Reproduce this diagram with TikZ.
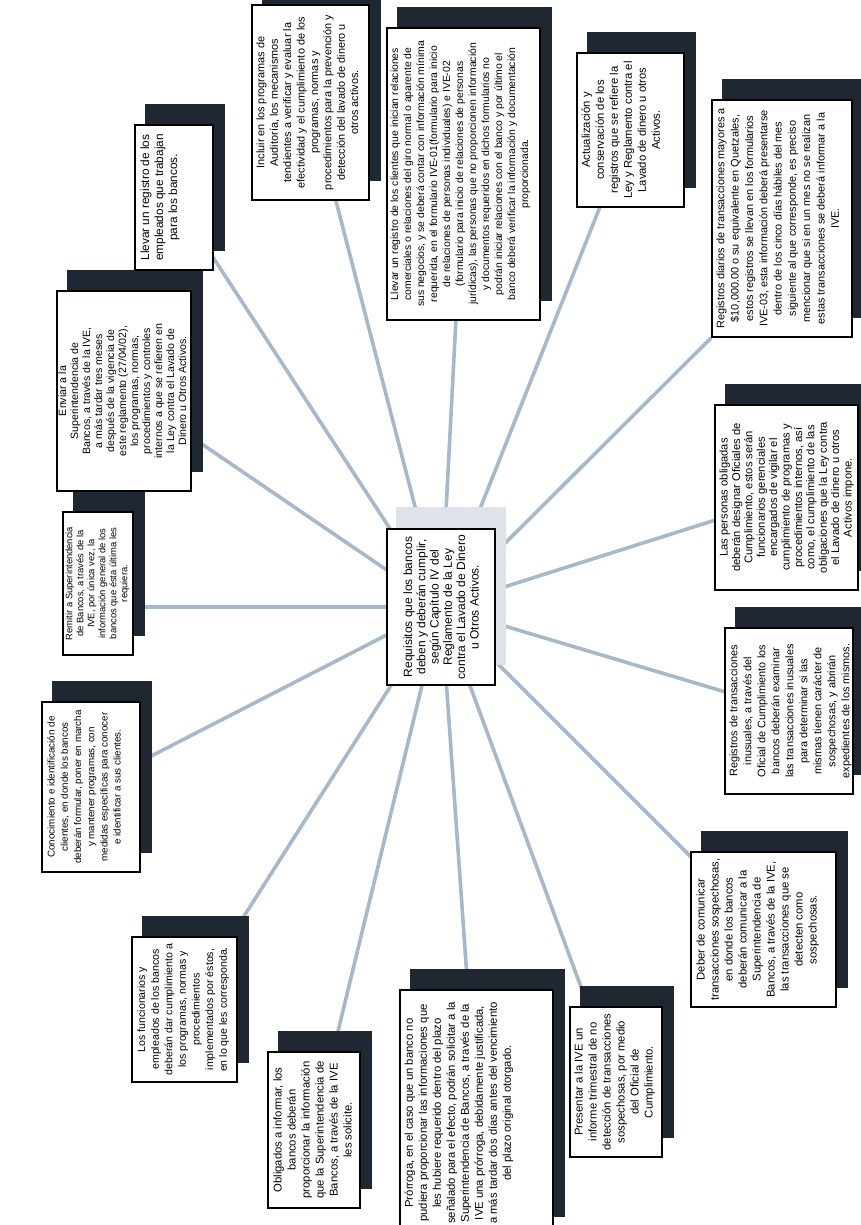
\documentclass[tikz,border=0pt]{standalone}
\usepackage{fontspec}
\setmainfont{Liberation Sans}
\usetikzlibrary{positioning, calc}

\pgfdeclarelayer{spokes}
\pgfdeclarelayer{shadows}
\pgfsetlayers{spokes,shadows,main}

\definecolor{spokeblue}{RGB}{166,184,201}
\definecolor{shadowdark}{RGB}{31,39,50}
\definecolor{shadowpale}{RGB}{222,226,233}

\begin{document}
\begin{tikzpicture}[
  x=1pt, y=-1pt,
  every node/.style={font=\fontsize{11.3}{14}\selectfont},
  %% boxes: the frame and its rotated text are separate nodes
  req/.style={draw, line width=1.4pt, fill=white, inner sep=0pt},
  reqtext/.style={rotate=90, anchor=north, align=center, inner sep=0pt},
  small/.style={font=\fontsize{10.4}{13}\selectfont},
  tight/.style={font=\fontsize{11.2}{12.4}\selectfont},
  spoke/.style={draw=spokeblue, line width=3.6pt},
  shade/.style={fill=shadowdark},
]
\useasboundingbox (0,0) rectangle (861,1225);

%% =========================================================
%% CENTRE — the requirement title
%% =========================================================
\node[req, minimum width=108pt, minimum height=156pt] (b1) at (441,607) {};
\node[reqtext, anchor=center, font=\fontsize{12}{13.3}\selectfont] (t1) at (b1.center)
  {Requisitos que los bancos\\deben y deberán cumplir,\\según Capítulo IV del\\Reglamento de la Ley\\contra el Lavado de Dinero\\u Otros Activos.};

%% =========================================================
%% TOP ROW — left to right
%% =========================================================
\node[req, minimum width=78pt, minimum height=145pt] (b16) at (174,197.5) {};
\node[reqtext, font=\fontsize{11.8}{14}\selectfont] (t16) at ([xshift=6pt]b16.west)
  {Llevar un registro de los\\empleados que trabajan\\para los bancos.};

\node[req, minimum width=117pt, minimum height=195pt] (b2) at (310.5,102.5) {};
\node[reqtext, font=\fontsize{10.9}{13.4}\selectfont] (t2) at ([xshift=5pt]b2.west)
  {Incluir en los programas de\\Auditoría, los mecanismos\\tendientes a verificar y evaluar la\\efectividad y el cumplimiento de los\\programas, normas y\\procedimientos para la prevención y\\detección del lavado de dinero u\\otros activos.};

\node[req, minimum width=153pt, minimum height=292pt] (b3) at (463.5,174) {};
\node[reqtext, small] (t3) at ([xshift=4pt]b3.west)
  {Llevar un registro de los clientes que inician relaciones\\comerciales o relaciones del giro normal o aparente de\\sus negocios, y se deberá contar con información mínima\\requerida, en el formulario IVE-01(formulario para inicio\\de relaciones de personas individuales) e IVE-02\\(formulario para inicio de relaciones de personas\\jurídicas), las personas que no proporcionen información\\y documentos requeridos en dichos formularios no\\podrán iniciar relaciones con el banco y por último el\\banco deberá verificar la información y documentación\\proporcionada.};

\node[req, minimum width=107pt, minimum height=154pt] (b4) at (630.5,130) {};
\node[reqtext] (t4) at ([xshift=5pt]b4.west)
  {Actualización y\\conservación de los\\registros que se refiere la\\Ley y Reglamento contra el\\Lavado de dinero u otros\\Activos.};

%% =========================================================
%% RIGHT COLUMN — top to bottom
%% =========================================================
\node[req, minimum width=140pt, minimum height=237pt] (b5) at (782,218.5) {};
\node[reqtext, font=\fontsize{10.9}{14.3}\selectfont] (t5) at ([xshift=5pt]b5.west)
  {Registros diarios de transacciones mayores a\\\$10,000.00 o su equivalente en Quetzales,\\estos registros se llevan en los formularios\\IVE-03, esta información deberá presentarse\\dentro de los cinco días hábiles del mes\\siguiente al que corresponde, es preciso\\mencionar que si en un mes no se realizan\\estas transacciones se deberá informar a la\\IVE.};

\node[req, minimum width=143pt, minimum height=185pt] (b6) at (786.5,497.5) {};
\node[reqtext, tight] (t6) at ([xshift=5pt]b6.west)
  {Las personas obligadas\\deberán designar Oficiales de\\Cumplimiento, estos serán\\funcionarios gerenciales\\encargados de vigilar el\\cumplimiento de programas y\\procedimientos internos, así\\como, el cumplimiento de las\\obligaciones que la Ley contra\\el Lavado de dinero u otros\\Activos impone.};

\node[req, minimum width=128pt, minimum height=166pt] (b7) at (789,711) {};
\node[reqtext, font=\fontsize{10.9}{14}\selectfont] (t7) at ([xshift=5pt]b7.west)
  {Registros de transacciones\\inusuales, a través del\\Oficial de Cumplimiento los\\bancos deberán examinar\\las transacciones inusuales\\para determinar si las\\mismas tienen carácter de\\sospechosas, y abrirán\\expedientes de los mismos.};

\node[req, minimum width=145pt, minimum height=155pt] (b8) at (763.5,929.5) {};
\node[reqtext] (t8) at ([xshift=6pt]b8.west)
  {Deber de comunicar\\transacciones sospechosas,\\en donde los bancos\\deberán comunicar a la\\Superintendencia de\\Bancos, a través de la IVE,\\las transacciones que se\\detecten como\\sospechosas.};

%% =========================================================
%% BOTTOM ROW — right to left
%% =========================================================
\node[req, minimum width=92pt, minimum height=150pt] (b9) at (616,1082) {};
\node[reqtext] (t9) at ([xshift=5pt]b9.west)
  {Presentar a la IVE un\\informe trimestral de no\\detección de transacciones\\sospechosas, por medio\\del Oficial de\\Cumplimiento.};

\node[req, minimum width=153pt, minimum height=246pt] (b10) at (476.5,1113) {};
\node[reqtext] (t10) at ([xshift=5pt]b10.west)
  {Prórroga, en el caso que un banco no\\pudiera proporcionar las informaciones que\\les hubiere requerido dentro del plazo\\señalado para el efecto, podrán solicitar a la\\Superintendencia de Bancos, a través de la\\IVE una prórroga, debidamente justificada,\\a más tardar dos días antes del vencimiento\\del plazo original otorgado.};

\node[req, minimum width=92pt, minimum height=156pt] (b11) at (314,1130) {};
\node[reqtext] (t11) at ([xshift=6pt]b11.west)
  {Obligados a informar, los\\bancos deberán\\proporcionar la información\\que la Superintendencia de\\Bancos, a través de la IVE\\les solicite.};

\node[req, minimum width=105pt, minimum height=145pt] (b12) at (184.5,1009.5) {};
\node[reqtext, font=\fontsize{10.6}{13.6}\selectfont] (t12) at ([xshift=6pt]b12.west)
  {Los funcionarios y\\empleados de los bancos\\deberán dar cumplimiento a\\los programas, normas y\\procedimientos\\implementados por éstos,\\en lo que les corresponda.};

%% =========================================================
%% LEFT COLUMN — bottom to top
%% =========================================================
\node[req, minimum width=98pt, minimum height=170pt] (b13) at (91,787) {};
\node[reqtext, font=\fontsize{9.8}{13.2}\selectfont] (t13) at ([xshift=6pt]b13.west)
  {Conocimiento e identificación de\\clientes, en donde los bancos\\deberán formular, poner en marcha\\y mantener programas, con\\medidas específicas para conocer\\e identificar a sus clientes.};

\node[req, minimum width=70pt, minimum height=143pt] (b14) at (98,583.5) {};
\node[reqtext, font=\fontsize{9.4}{11}\selectfont] (t14) at ([xshift=3pt]b14.west)
  {Remitir a Superintendencia\\de Bancos, a través de la\\IVE, por única vez, la\\información general de los\\bancos que ésta última les\\requiera.};

\node[req, minimum width=134pt, minimum height=200pt] (b15) at (124,391) {};
\node[reqtext, font=\fontsize{10.6}{12}\selectfont] (t15) at ([xshift=2pt]b15.west)
  {Enviar a la\\Superintendencia de\\Bancos, a través de la IVE,\\a más tardar tres meses\\después de la vigencia de\\este reglamento (27/04/02),\\los programas, normas,\\procedimientos y controles\\internos a que se refieren en\\la Ley contra el Lavado de\\Dinero u Otros Activos.};

%% =========================================================
%% SHADOWS — same size as each box, up and to the right
%% =========================================================
\begin{pgfonlayer}{shadows}
  \fill[shadowpale] ([shift={(10,-21)}]b1.south west) rectangle ([shift={(10,-21)}]b1.north east);
  \fill[shade] ([shift={(11,-20)}]b2.south west) rectangle ([shift={(11,-20)}]b2.north east);
  \fill[shade] ([shift={(11,-20)}]b3.south west) rectangle ([shift={(11,-20)}]b3.north east);
  \fill[shade] ([shift={(11,-20)}]b4.south west) rectangle ([shift={(11,-20)}]b4.north east);
  \fill[shade] ([shift={(11,-20)}]b5.south west) rectangle ([shift={(11,-20)}]b5.north east);
  \fill[shade] ([shift={(11,-20)}]b6.south west) rectangle ([shift={(11,-20)}]b6.north east);
  \fill[shade] ([shift={(11,-20)}]b7.south west) rectangle ([shift={(11,-20)}]b7.north east);
  \fill[shade] ([shift={(11,-20)}]b8.south west) rectangle ([shift={(11,-20)}]b8.north east);
  \fill[shade] ([shift={(11,-20)}]b9.south west) rectangle ([shift={(11,-20)}]b9.north east);
  \fill[shade] ([shift={(11,-20)}]b10.south west) rectangle ([shift={(11,-20)}]b10.north east);
  \fill[shade] ([shift={(11,-20)}]b11.south west) rectangle ([shift={(11,-20)}]b11.north east);
  \fill[shade] ([shift={(11,-20)}]b12.south west) rectangle ([shift={(11,-20)}]b12.north east);
  \fill[shade] ([shift={(11,-20)}]b13.south west) rectangle ([shift={(11,-20)}]b13.north east);
  \fill[shade] ([shift={(11,-20)}]b14.south west) rectangle ([shift={(11,-20)}]b14.north east);
  \fill[shade] ([shift={(11,-20)}]b15.south west) rectangle ([shift={(11,-20)}]b15.north east);
  \fill[shade] ([shift={(11,-20)}]b16.south west) rectangle ([shift={(11,-20)}]b16.north east);
\end{pgfonlayer}

%% =========================================================
%% SPOKES — centre to every box
%% =========================================================
\begin{pgfonlayer}{spokes}
  \draw[spoke] (b1.center) -- (b2.center);
  \draw[spoke] (b1.center) -- (b3.center);
  \draw[spoke] (b1.center) -- (b4.center);
  \draw[spoke] (b1.center) -- (b5.south west);
  \draw[spoke] (b1.center) -- (b6.center);
  \draw[spoke] (b1.center) -- (b7.center);
  \draw[spoke] (b1.center) -- (b8.center);
  \draw[spoke] (b1.center) -- (b9.center);
  \draw[spoke] (b1.center) -- (b10.center);
  \draw[spoke] (b1.center) -- (b11.center);
  \draw[spoke] (b1.center) -- (b12.center);
  \draw[spoke] (b1.center) -- (b13.center);
  \draw[spoke] (b1.center) -- (b1.center -| b14.east);
  \draw[spoke] (b1.center) -- (b15.center);
  \draw[spoke] (b1.center) -- (b16.center);
\end{pgfonlayer}

\end{tikzpicture}
\end{document}
